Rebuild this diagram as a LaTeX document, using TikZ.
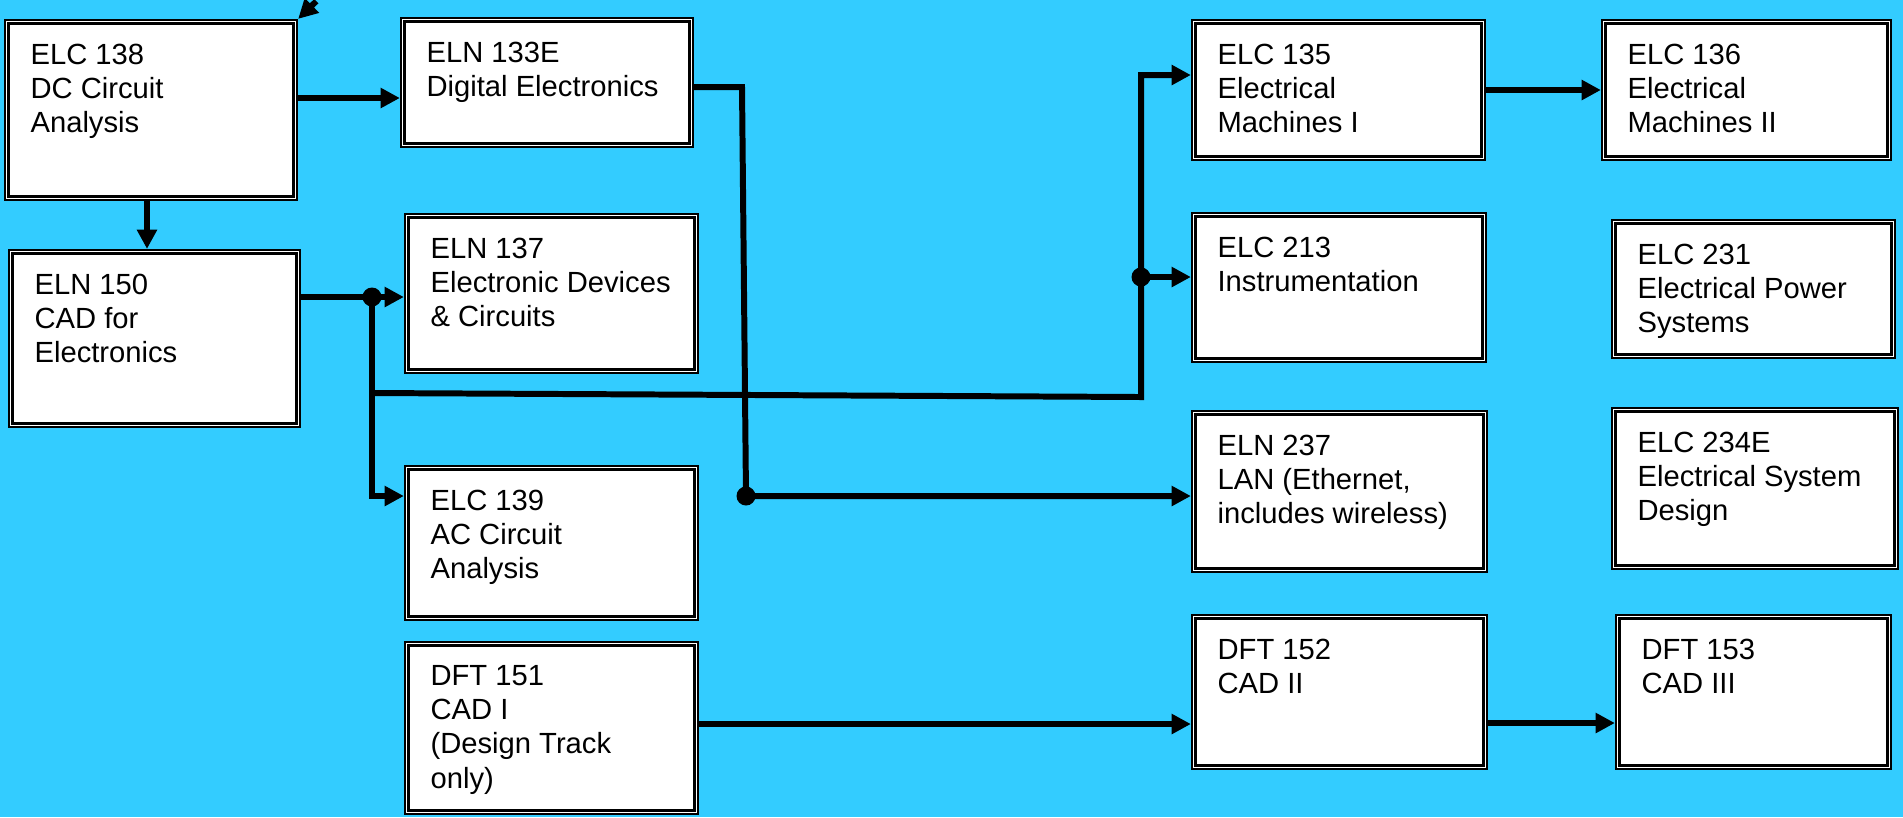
\documentclass[tikz,border=0pt]{standalone}
\usepackage{fontspec}
\setmainfont{Liberation Sans}
\usetikzlibrary{arrows.meta,positioning}
\definecolor{mybgcolor}{HTML}{33CCFF}

\tikzset{%
course/.style={draw, line width=0.6pt, fill=white, rectangle, inner sep=0pt},%
innerframe/.style={line width=1pt},%
coursetext/.style={inner sep=0pt, align=left, font=\fontsize{8.3pt}{9.7pt}\selectfont},%
wire/.style={line width=1.7pt},%
arr/.style={wire, -{Triangle[length=5.5pt, width=5.5pt]}}%
}

\begin{document}
\begin{tikzpicture}[x=0.01cm, y=-0.01cm]%
\clip (0,0) rectangle (1903,817);%
\fill[mybgcolor] (0,0) rectangle (1903,817);%
\node[course, minimum width=2.92cm, minimum height=1.80cm] (elc138) at (151, 110) {};%
\node[course, minimum width=2.92cm, minimum height=1.29cm] (eln133e) at (547, 82.5) {};%
\node[course, minimum width=2.91cm, minimum height=1.77cm] (eln150) at (154.5, 338.5) {};%
\node[course, minimum width=2.93cm, minimum height=1.59cm] (eln137) at (551.5, 293.5) {};%
\node[course, minimum width=2.93cm, minimum height=1.54cm] (elc139) at (551.5, 543) {};%
\node[course, minimum width=2.93cm, minimum height=1.72cm] (dft151) at (551.5, 728) {};%
\node[course, minimum width=2.93cm, minimum height=1.40cm] (elc135) at (1338.5, 90) {};%
\node[course, minimum width=2.89cm, minimum height=1.40cm] (elc136) at (1746.5, 90) {};%
\node[course, minimum width=2.94cm, minimum height=1.49cm] (elc213) at (1339, 287.5) {};%
\node[course, minimum width=2.83cm, minimum height=1.38cm] (elc231) at (1753.5, 289) {};%
\node[course, minimum width=2.95cm, minimum height=1.61cm] (eln237) at (1339.5, 491.5) {};%
\node[course, minimum width=2.86cm, minimum height=1.61cm] (elc234e) at (1755, 488.5) {};%
\node[course, minimum width=2.95cm, minimum height=1.54cm] (dft152) at (1339.5, 692) {};%
\node[course, minimum width=2.75cm, minimum height=1.54cm] (dft153) at (1753.5, 692) {};%
\foreach \n in {elc138, eln133e, eln150, eln137, elc139, dft151, elc135, elc136, elc213, elc231, eln237, elc234e, dft152, dft153}%
  \draw[innerframe] ([shift={(4.5,4.5)}]\n.north west) rectangle ([shift={(-4.5,-4.5)}]\n.south east);%
\node[coursetext, below right=0.24cm and 0.26cm of elc138.north west] (elc138-t) {ELC 138\\DC Circuit\\Analysis};%
\node[coursetext, below right=0.24cm and 0.26cm of eln133e.north west] (eln133e-t) {ELN 133E\\Digital Electronics};%
\node[coursetext, below right=0.24cm and 0.26cm of eln150.north west] (eln150-t) {ELN 150\\CAD for\\Electronics};%
\node[coursetext, below right=0.24cm and 0.26cm of eln137.north west] (eln137-t) {ELN 137\\Electronic Devices\\\& Circuits};%
\node[coursetext, below right=0.24cm and 0.26cm of elc139.north west] (elc139-t) {ELC 139\\AC Circuit\\Analysis};%
\node[coursetext, below right=0.24cm and 0.26cm of dft151.north west] (dft151-t) {DFT 151\\CAD I\\(Design Track\\only)};%
\node[coursetext, below right=0.24cm and 0.26cm of elc135.north west] (elc135-t) {ELC 135\\Electrical\\Machines I};%
\node[coursetext, below right=0.24cm and 0.26cm of elc136.north west] (elc136-t) {ELC 136\\Electrical\\Machines II};%
\node[coursetext, below right=0.24cm and 0.26cm of elc213.north west] (elc213-t) {ELC 213\\Instrumentation};%
\node[coursetext, below right=0.24cm and 0.26cm of elc231.north west] (elc231-t) {ELC 231\\Electrical Power\\Systems};%
\node[coursetext, below right=0.24cm and 0.26cm of eln237.north west] (eln237-t) {ELN 237\\LAN (Ethernet,\\includes wireless)};%
\node[coursetext, below right=0.24cm and 0.26cm of elc234e.north west] (elc234e-t) {ELC 234E\\Electrical System\\Design};%
\node[coursetext, below right=0.24cm and 0.26cm of dft152.north west] (dft152-t) {DFT 152\\CAD II};%
\node[coursetext, below right=0.24cm and 0.26cm of dft153.north west] (dft153-t) {DFT 153\\CAD III};%
\coordinate (tail) at (334, -16);%
\coordinate (split150) at (372, 297);%
\coordinate (tee150) at (372, 393);%
\coordinate (bend139) at (372, 496);%
\coordinate (bend213) at (1141, 397);%
\coordinate (split213) at (1141, 277);%
\coordinate (bend135) at (1141, 75);%
\coordinate (bend133) at (742, 87);%
\coordinate (split237) at (746, 496);%
\draw[arr, dash pattern=on 4pt off 3pt] (tail) -- (elc138.north east);%
\draw[arr] (elc138.east |- 0,98) -- (eln133e.west |- 0,98);%
\draw[arr] (elc138.south -| 147,0) -- (eln150.north -| 147,0);%
\draw[arr] (eln150.east |- split150) -- (eln137.west |- split150);%
\draw[arr] (split150) -- (bend139) -- (elc139.west |- bend139);%
\draw[arr] (tee150) -- (bend213) -- (bend135) -- (elc135.west |- bend135);%
\draw[arr] (split213) -- (elc213.west |- split213);%
\draw[arr] (eln133e.east |- bend133) -- (bend133) -- (split237) -- (eln237.west |- split237);%
\draw[arr] (elc135.east) -- (elc136.west);%
\draw[arr] (dft151.east |- 0,724) -- (dft152.west |- 0,724);%
\draw[arr] (dft152.east |- 0,723) -- (dft153.west |- 0,723);%
\foreach \j in {split150, split213, split237}%
  \fill (\j) circle[radius=0.095cm];%
\end{tikzpicture}
\end{document}
